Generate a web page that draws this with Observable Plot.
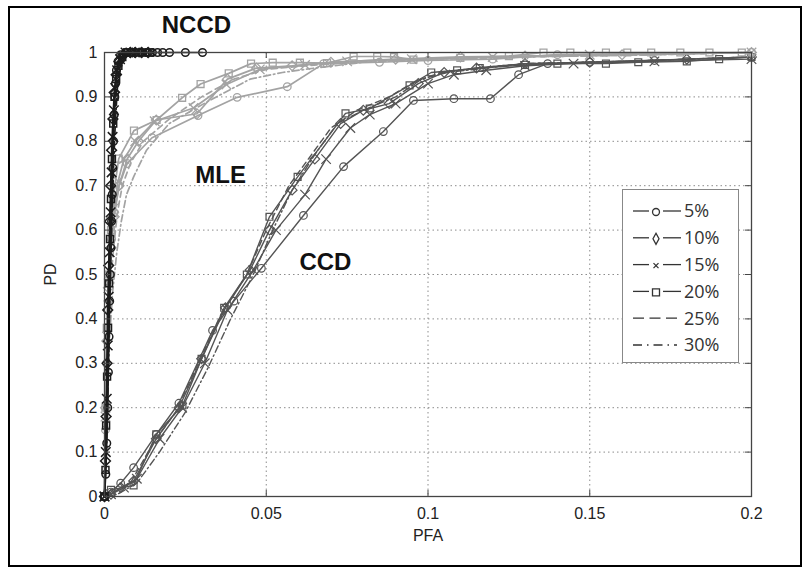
<!DOCTYPE html>
<html><head><meta charset="utf-8">
<script src="https://cdn.jsdelivr.net/npm/d3@7"></script>
<script src="https://cdn.jsdelivr.net/npm/@observablehq/plot@0.6"></script>
<style>
body{margin:0;background:#fff;}
#wrap{position:relative;width:812px;height:575px;overflow:hidden;background:#fff;}
#wrap svg.plot{position:absolute;left:0;top:0;}
#border{position:absolute;left:8px;top:6px;width:794px;height:561px;border:2px solid #000;box-sizing:border-box;pointer-events:none;}
#legend{position:absolute;left:622px;top:189px;width:117px;height:174px;border:1px solid #888;background:#fff;box-sizing:border-box;}
</style></head>
<body>
<div id="wrap"><div id="border"></div></div>
<script>
// ---- tick values and labels ----
const xTicks = [0, 0.05, 0.1, 0.15, 0.2];
const xTickLabels = ["0", "0.05", "0.1", "0.15", "0.2"];
const yTicks = [0, 0.1, 0.2, 0.3, 0.4, 0.5, 0.6, 0.7, 0.8, 0.9, 1];
const yTickLabels = ["0", "0.1", "0.2", "0.3", "0.4", "0.5", "0.6", "0.7", "0.8", "0.9", "1"];
const xGrid = [0.05, 0.1, 0.15];
const yGrid = [0.1, 0.2, 0.3, 0.4, 0.5, 0.6, 0.7, 0.8, 0.9];

// ---- legend / series names ----
const seriesNames = ["5%", "10%", "15%", "20%", "25%", "30%"];

// ---- annotation labels (data coordinates) ----
const annotLabels = ["NCCD", "MLE", "CCD"];
const annotX = [0.0284, 0.0359, 0.0683];
const annotY = [1.061, 0.723, 0.527];

// ---- CCD (dark gray) [PFA, PD] ----
const ccd5 = [[0,0],[0.002,0.01],[0.005,0.03],[0.009,0.065],[0.016,0.14],[0.023,0.21],[0.0334,0.374],[0.04,0.44],[0.0485,0.514],[0.0615,0.633],[0.0739,0.743],[0.0862,0.822],[0.0955,0.892],[0.108,0.896],[0.1193,0.896],[0.128,0.95],[0.137,0.975],[0.15,0.978],[0.17,0.982],[0.2,0.99]];
const ccd10 = [[0,0],[0.002,0.005],[0.005,0.02],[0.009,0.035],[0.016,0.13],[0.023,0.2],[0.03,0.31],[0.0374,0.425],[0.045,0.51],[0.051,0.6],[0.058,0.69],[0.065,0.76],[0.073,0.84],[0.08,0.87],[0.088,0.885],[0.097,0.93],[0.105,0.955],[0.115,0.965],[0.13,0.975],[0.15,0.978],[0.18,0.985],[0.2,0.99]];
const ccd15 = [[0,0],[0.002,0.005],[0.006,0.02],[0.01,0.04],[0.017,0.13],[0.024,0.2],[0.031,0.3],[0.038,0.42],[0.046,0.51],[0.053,0.6],[0.062,0.68],[0.0685,0.76],[0.076,0.83],[0.082,0.86],[0.09,0.885],[0.1,0.93],[0.108,0.95],[0.118,0.96],[0.13,0.97],[0.145,0.975],[0.17,0.98],[0.2,0.985]];
const ccd20 = [[0,0],[0.002,0.015],[0.009,0.025],[0.016,0.14],[0.0241,0.205],[0.03,0.31],[0.037,0.425],[0.044,0.5],[0.051,0.63],[0.0597,0.72],[0.0745,0.863],[0.082,0.874],[0.0943,0.926],[0.101,0.955],[0.109,0.96],[0.116,0.965],[0.13,0.972],[0.14,0.975],[0.155,0.975],[0.165,0.978],[0.18,0.98],[0.19,0.985],[0.2,0.99]];
const ccd25 = [[0,0],[0.003,0.01],[0.008,0.03],[0.015,0.12],[0.022,0.19],[0.029,0.3],[0.036,0.41],[0.044,0.5],[0.05,0.6],[0.057,0.7],[0.064,0.77],[0.07,0.83],[0.078,0.87],[0.088,0.9],[0.096,0.935],[0.104,0.955],[0.115,0.965],[0.13,0.975],[0.16,0.98],[0.2,0.99]];
const ccd30 = [[0,0],[0.004,0.005],[0.01,0.03],[0.017,0.1],[0.025,0.19],[0.032,0.29],[0.039,0.4],[0.046,0.5],[0.052,0.6],[0.058,0.69],[0.065,0.77],[0.072,0.84],[0.08,0.87],[0.09,0.9],[0.098,0.94],[0.106,0.955],[0.118,0.965],[0.13,0.975],[0.16,0.98],[0.2,0.99]];

// ---- MLE (light gray) ----
const mle5 = [[0,0],[0.0003,0.15],[0.0006,0.3],[0.001,0.42],[0.0015,0.5],[0.0022,0.58],[0.003,0.64],[0.0045,0.7],[0.007,0.75],[0.0147,0.808],[0.0289,0.858],[0.041,0.899],[0.0565,0.923],[0.0677,0.975],[0.085,0.978],[0.1,0.982],[0.12,0.985],[0.14,0.995],[0.2,1]];
const mle10 = [[0,0],[0.0003,0.2],[0.0007,0.35],[0.0012,0.47],[0.002,0.56],[0.003,0.63],[0.0045,0.7],[0.007,0.76],[0.0105,0.8],[0.016,0.848],[0.0286,0.862],[0.038,0.94],[0.047,0.965],[0.058,0.97],[0.07,0.978],[0.09,0.985],[0.11,0.99],[0.13,0.992],[0.16,0.995],[0.2,1]];
const mle15 = [[0,0],[0.0003,0.18],[0.0008,0.36],[0.0013,0.48],[0.002,0.57],[0.003,0.65],[0.0042,0.71],[0.006,0.76],[0.0095,0.8],[0.0155,0.845],[0.0275,0.875],[0.0377,0.928],[0.048,0.962],[0.062,0.972],[0.075,0.98],[0.095,0.985],[0.12,0.99],[0.15,0.995],[0.2,1]];
const mle20 = [[0,0],[0.0003,0.2],[0.0007,0.38],[0.0012,0.5],[0.002,0.6],[0.003,0.69],[0.0044,0.761],[0.0091,0.824],[0.0161,0.848],[0.024,0.898],[0.0297,0.929],[0.0384,0.953],[0.0453,0.975],[0.052,0.977],[0.0604,0.977],[0.0688,0.976],[0.077,0.991],[0.0843,0.991],[0.0895,0.99],[0.0955,0.984],[0.11,0.988],[0.125,0.992],[0.1357,1],[0.144,1],[0.155,1],[0.1616,1],[0.169,1],[0.178,1],[0.187,1],[0.197,1]];
const mle25 = [[0,0],[0.0005,0.2],[0.001,0.35],[0.0018,0.47],[0.0028,0.56],[0.004,0.64],[0.0055,0.7],[0.008,0.75],[0.012,0.8],[0.02,0.85],[0.03,0.9],[0.04,0.94],[0.05,0.962],[0.062,0.97],[0.08,0.98],[0.1,0.985],[0.13,0.99],[0.17,0.995],[0.2,1]];
const mle30 = [[0,0],[0.0008,0.2],[0.0015,0.35],[0.0025,0.46],[0.0038,0.55],[0.0052,0.62],[0.0068,0.68],[0.009,0.72],[0.013,0.78],[0.02,0.84],[0.032,0.89],[0.045,0.94],[0.055,0.955],[0.065,0.965],[0.08,0.978],[0.1,0.985],[0.13,0.99],[0.17,0.995],[0.2,1]];

// ---- NCCD (black) ----
const nccd5 = [[0,0],[0.0004,0.05],[0.0007,0.12],[0.001,0.2],[0.0012,0.28],[0.0014,0.36],[0.0016,0.44],[0.0018,0.5],[0.002,0.56],[0.0022,0.62],[0.0024,0.68],[0.0026,0.74],[0.0028,0.8],[0.003,0.86],[0.0032,0.9],[0.0034,0.93],[0.0037,0.96],[0.0042,0.98],[0.005,0.995],[0.0065,1],[0.0085,1],[0.011,1],[0.013,1],[0.0148,1],[0.0164,1],[0.018,1],[0.0201,1],[0.025,1],[0.0303,1]];
const nccd10 = [[0,0],[0.0003,0.08],[0.0005,0.18],[0.0008,0.3],[0.001,0.42],[0.0013,0.52],[0.0016,0.62],[0.0019,0.7],[0.0022,0.78],[0.0026,0.85],[0.003,0.91],[0.0036,0.95],[0.0045,0.98],[0.006,0.995],[0.008,1],[0.0095,1],[0.0115,1],[0.0135,1]];
const nccd15 = [[0,0],[0.0004,0.1],[0.0007,0.22],[0.001,0.34],[0.0013,0.45],[0.0016,0.55],[0.0019,0.64],[0.0022,0.73],[0.0025,0.81],[0.0029,0.87],[0.0033,0.92],[0.0039,0.96],[0.0048,0.985],[0.0065,1],[0.008,1],[0.01,1],[0.012,1]];
const nccd20 = [[0,0],[0.0003,0.06],[0.0005,0.16],[0.0008,0.27],[0.0011,0.38],[0.0014,0.48],[0.0017,0.58],[0.002,0.67],[0.0023,0.76],[0.0027,0.84],[0.0031,0.9],[0.0036,0.94],[0.0043,0.97],[0.0055,0.99],[0.007,1],[0.0085,1],[0.0105,1],[0.0125,1],[0.014,1]];
const nccd25 = [[0,0],[0.0005,0.12],[0.0009,0.28],[0.0013,0.44],[0.0017,0.58],[0.0022,0.7],[0.0027,0.8],[0.0033,0.88],[0.004,0.94],[0.005,0.975],[0.0068,0.995],[0.009,1],[0.012,1]];
const nccd30 = [[0,0],[0.0007,0.12],[0.0011,0.26],[0.0015,0.4],[0.0019,0.53],[0.0024,0.65],[0.0029,0.76],[0.0034,0.85],[0.004,0.92],[0.0048,0.96],[0.0062,0.99],[0.0085,1],[0.011,1]];

// ---- styles ----
const symbols = ["circle", "diamond2", "times", "square2", null, null];
const dashes = [null, null, null, null, "6,4", "7,3,1.5,3"];
const groups = [
  {series: [ccd5, ccd10, ccd15, ccd20, ccd25, ccd30], color: "#545454", lw: 1.4, mw: 1.2},
  {series: [mle5, mle10, mle15, mle20, mle25, mle30], color: "#a3a3a3", lw: 1.7, mw: 1.3},
  {series: [nccd5, nccd10, nccd15, nccd20, nccd25, nccd30], color: "#1c1c1c", lw: 1.6, mw: 1.5}
];

const W = 812, H = 575, mL = 104, mR = 61, mT = 52, mB = 79;
const fw = W - mL - mR, fh = H - mT - mB;
const TICK = 6;

const marks = [
  Plot.gridX(xGrid, {stroke: "#8c8c8c", strokeOpacity: 1, strokeDasharray: "1.5,3", strokeWidth: 1}),
  Plot.gridY(yGrid, {stroke: "#8c8c8c", strokeOpacity: 1, strokeDasharray: "1.5,3", strokeWidth: 1})
];
for (const g of groups) {
  g.series.forEach((s, i) => {
    marks.push(Plot.line(s, {x: d => d[0], y: d => d[1], stroke: g.color, strokeWidth: g.lw, strokeDasharray: dashes[i]}));
    if (symbols[i]) marks.push(Plot.dot(s, {x: d => d[0], y: d => d[1], symbol: symbols[i], r: symbols[i] === "circle" ? 3.8 : 4.4, stroke: g.color, fill: "none", strokeWidth: g.mw}));
  });
}
// inward ticks on all four sides
marks.push(
  Plot.ruleX(xTicks, {x: d => d, insetTop: fh - TICK, stroke: "#444"}),
  Plot.ruleX(xTicks, {x: d => d, insetBottom: fh - TICK, stroke: "#444"}),
  Plot.ruleY(yTicks, {y: d => d, insetRight: fw - TICK, stroke: "#444"}),
  Plot.ruleY(yTicks, {y: d => d, insetLeft: fw - TICK, stroke: "#444"}),
  Plot.frame({stroke: "#444", strokeWidth: 1.3}),
  Plot.axisX({ticks: xTicks, tickSize: 0, tickPadding: 11, tickFormat: d => xTickLabels[xTicks.indexOf(d)], label: "PFA", labelAnchor: "center", labelOffset: 44, labelArrow: "none", fill: "#222"}),
  Plot.axisY({ticks: yTicks, tickSize: 0, tickPadding: 7, tickFormat: d => yTickLabels[yTicks.indexOf(d)], label: "PD", labelAnchor: "center", labelOffset: 60, labelArrow: "none", fill: "#222"}),
  Plot.text(annotLabels, {x: (d, i) => annotX[i], y: (d, i) => annotY[i], text: d => d, fontSize: 24, fontWeight: "bold", fill: "#111", fontFamily: "Liberation Sans, Arial, sans-serif"})
);

const chart = Plot.plot({
  width: W, height: H,
  marginLeft: mL, marginRight: mR, marginTop: mT, marginBottom: mB,
  x: {domain: [0, 0.2]},
  y: {domain: [0, 1]},
  style: {fontFamily: "Liberation Sans, Arial, sans-serif", fontSize: "16px", background: "transparent", color: "#222"},
  marks
});
chart.classList.add("plot");
const wrap = document.getElementById("wrap");
wrap.insertBefore(chart, wrap.firstChild);

// ---- legend (HTML overlay) ----
const leg = document.createElement("div");
leg.id = "legend";
wrap.appendChild(leg);
const lsvg = d3.select(leg).append("svg").attr("width", 115).attr("height", 172);
const symPaths = {
  circle: () => d3.symbol(d3.symbolCircle, 38)(),
  diamond2: () => "M0,-5.5L3,0L0,5.5L-3,0Z",
  times: () => "M-2.5,-2.5L2.5,2.5M2.5,-2.5L-2.5,2.5",
  square2: () => "M-3.5,-3.5H3.5V3.5H-3.5Z"
};
seriesNames.forEach((name, i) => {
  const y = 21 + i * 26.8;
  const row = lsvg.append("g").attr("transform", `translate(0,${y})`);
  if (symbols[i]) {
    row.append("line").attr("x1", 10).attr("x2", 26).attr("y1", 0).attr("y2", 0).attr("stroke", "#333").attr("stroke-width", 1.3);
    row.append("line").attr("x1", 40).attr("x2", 58).attr("y1", 0).attr("y2", 0).attr("stroke", "#333").attr("stroke-width", 1.3);
    row.append("path").attr("d", symPaths[symbols[i]]()).attr("transform", "translate(33,1)").attr("fill", "none").attr("stroke", "#333").attr("stroke-width", 1.3);
  } else {
    row.append("line").attr("x1", 10).attr("x2", 54).attr("y1", 0).attr("y2", 0).attr("stroke", "#333").attr("stroke-width", 1.3).attr("stroke-dasharray", dashes[i] === "6,4" ? "11,5.5" : "9,5,1.5,5");
  }
  row.append("text").attr("x", 61).attr("y", 0).attr("dy", "0.35em").attr("font-family", "Open Sans, sans-serif").attr("font-size", 18).attr("fill", "#333").text(name);
});
</script>
</body></html>
